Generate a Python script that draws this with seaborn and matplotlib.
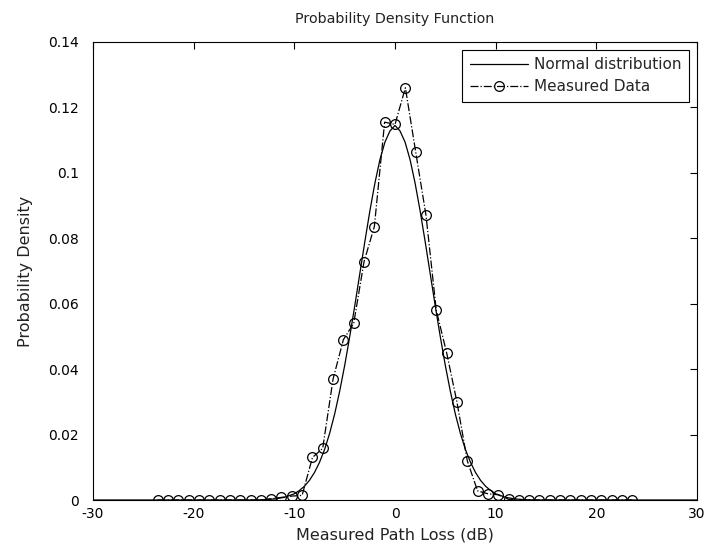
import matplotlib
matplotlib.use("Agg")
import matplotlib.pyplot as plt
import seaborn as sns
import pandas as pd
from matplotlib.ticker import FixedLocator, FuncFormatter

# ---- data ----
norm_x = [-30, -14, -13, -12, -11, -10, -9.5, -9, -8.5, -8, -7.5, -7, -6.5, -6, -5.5,
          -5, -4.5, -4, -3.5, -3, -2.5, -2, -1.5, -1, -0.5, 0,
          0.5, 1, 1.5, 2, 2.5, 3, 3.5, 4, 4.5, 5, 5.5, 6, 6.5, 7, 7.5, 8, 8.5, 9, 9.5,
          10, 11, 12, 13, 14, 30]
norm_y = [0.0, 0.0, 0.0001, 0.0003, 0.0008, 0.0019, 0.0029, 0.0042, 0.0060, 0.0084, 0.0115,
          0.0154, 0.0203, 0.0262, 0.0332, 0.0411, 0.0499, 0.0593, 0.0691, 0.0789, 0.0883,
          0.0968, 0.1040, 0.1094, 0.1128, 0.1145,
          0.1128, 0.1094, 0.1040, 0.0968, 0.0883, 0.0789, 0.0691, 0.0593, 0.0499, 0.0411,
          0.0332, 0.0262, 0.0203, 0.0154, 0.0115, 0.0084, 0.0060, 0.0042, 0.0029, 0.0019,
          0.0008, 0.0003, 0.0001, 0.0, 0.0]

meas_x = [-23.58, -22.55, -21.53, -20.50, -19.48, -18.45, -17.43, -16.40, -15.38, -14.35,
          -13.33, -12.30, -11.28, -10.25, -9.23, -8.20, -7.18, -6.15, -5.13, -4.10, -3.08,
          -2.05, -1.03, 0.0, 1.03, 2.05, 3.08, 4.10, 5.13, 6.15, 7.18, 8.20, 9.23, 10.25,
          11.28, 12.30, 13.33, 14.35, 15.38, 16.40, 17.43, 18.45, 19.48, 20.50, 21.53,
          22.55, 23.58]
meas_y = [0, 0, 0, 0, 0, 0, 0, 0, 0, 0, 0,
          0.0004, 0.0008, 0.0012, 0.0014,
          0.0130, 0.0158, 0.0370, 0.0490, 0.0540, 0.0728, 0.0836, 0.1155, 0.1148,
          0.1260, 0.1065, 0.0870, 0.0580, 0.0450, 0.0300, 0.0120, 0.0028, 0.0019, 0.0016,
          0.0002,
          0, 0, 0, 0, 0, 0, 0, 0, 0, 0, 0, 0]

x_ticks = [-30, -20, -10, 0, 10, 20, 30]
y_ticks = [0, 0.02, 0.04, 0.06, 0.08, 0.1, 0.12, 0.14]

title_text = "Probability Density Function"
x_label = "Measured Path Loss (dB)"
y_label = "Probability Density"
labels = ["Normal distribution", "Measured Data"]

# ---- plot ----
sns.set_style("white")
plt.rcParams["font.family"] = ["DejaVu Sans"]
plt.rcParams["font.size"] = 10

fig = plt.figure(figsize=(7.09, 5.5), dpi=100, facecolor="white")
ax = fig.add_axes([93 / 709, 1 - 500 / 550, (697 - 93) / 709, (500 - 42) / 550])

norm_df = pd.DataFrame({"x": norm_x, "y": norm_y})
meas_df = pd.DataFrame({"x": meas_x, "y": meas_y})

sns.lineplot(data=norm_df, x="x", y="y", ax=ax, color="black", linewidth=0.9,
             label=labels[0], sort=False)
sns.lineplot(data=meas_df, x="x", y="y", ax=ax, color="black", linewidth=0.9,
             linestyle="-.", marker="o", markersize=7, markerfacecolor="none",
             markeredgecolor="black", markeredgewidth=0.9, label=labels[1], sort=False)

ax.set_xlim(-30, 30)
ax.set_ylim(0, 0.14)
ax.xaxis.set_major_locator(FixedLocator(x_ticks))
ax.yaxis.set_major_locator(FixedLocator(y_ticks))
ax.yaxis.set_major_formatter(FuncFormatter(lambda v, p: "%g" % round(v, 4)))
ax.xaxis.set_major_formatter(FuncFormatter(lambda v, p: "%g" % v))

ax.tick_params(direction="in", length=5, width=0.8, top=True, right=True,
               labelsize=10, colors="black")
ax.tick_params(axis="y", pad=10)
ax.tick_params(axis="x", pad=5)
for s in ax.spines.values():
    s.set_visible(True)
    s.set_color("black")
    s.set_linewidth(0.8)

ax.set_title(title_text, fontsize=10.3, pad=14, color="#222222")
ax.set_xlabel(x_label, fontsize=11.5, labelpad=5, color="#222222")
ax.set_ylabel(y_label, fontsize=11.5, labelpad=11, color="#222222")

leg = ax.legend(loc="upper right", fontsize=11, frameon=True, fancybox=False,
                edgecolor="black", framealpha=1, handlelength=3.8, handletextpad=0.4,
                borderaxespad=0.5, borderpad=0.5, labelspacing=0.45)
leg.get_frame().set_linewidth(0.8)

fig.savefig("out.png", dpi=100, facecolor="white")
